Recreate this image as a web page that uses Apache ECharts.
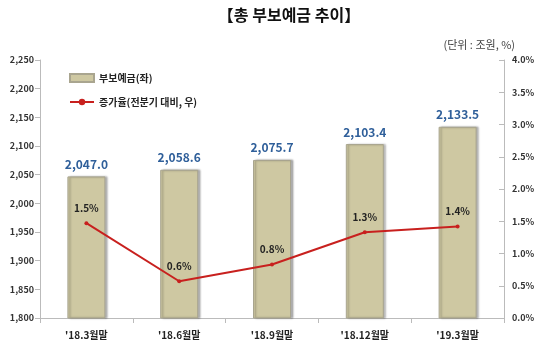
<!DOCTYPE html>
<html><head><meta charset="utf-8">
<script src="https://cdn.jsdelivr.net/npm/echarts@6/dist/echarts.min.js"></script>
<style>html,body{margin:0;padding:0;background:#fff}#c{width:540px;height:355px}</style>
</head><body><div id="c"></div>
<script>
const categories = ["'18.3월말", "'18.6월말", "'18.9월말", "'18.12월말", "'19.3월말"];
const deposits = [2047.0, 2058.6, 2075.7, 2103.4, 2133.5];
const growth = [1.47, 0.57, 0.83, 1.33, 1.42];
const growthLabels = ["1.5%", "0.6%", "0.8%", "1.3%", "1.4%"];
const leftTicks = [1800, 2250, 50];
const rightTicks = [0, 4, 0.5];

const font = "'Noto Sans CJK KR', 'Noto Sans', sans-serif";
const chart = echarts.init(document.getElementById('c'));
chart.setOption({
  animation: false,
  textStyle: { fontFamily: font },
  title: [
    { text: '【총 부보예금 추이】', left: 284, top: 2, textAlign: 'center',
      textStyle: { fontSize: 16, fontWeight: 'bold', color: '#111', fontFamily: font } },
    { text: '(단위 : 조원, %)', right: 20, top: 34,
      textStyle: { fontSize: 11, fontWeight: 'normal', color: '#444', fontFamily: font } }
  ],
  legend: {
    left: 64, top: 68, orient: 'vertical', itemGap: 14,
    itemWidth: 24, itemHeight: 8,
    textStyle: { fontSize: 10, fontWeight: 'bold', color: '#222', fontFamily: font },
    data: [
      { name: '부보예금(좌)', icon: 'rect' },
      { name: '증가율(전분기 대비, 우)' }
    ]
  },
  grid: { left: 40, right: 36, top: 60, bottom: 37 },
  xAxis: {
    type: 'category', data: categories,
    axisLine: { lineStyle: { color: '#bbb' } },
    axisTick: { show: true, lineStyle: { color: '#bbb' } },
    axisLabel: { fontSize: 10, fontWeight: 'bold', color: '#222', margin: 12 }
  },
  yAxis: [
    { type: 'value', min: leftTicks[0], max: leftTicks[1], interval: leftTicks[2],
      axisLine: { show: true, lineStyle: { color: '#bbb' } },
      axisTick: { show: true, lineStyle: { color: '#bbb' } },
      splitLine: { show: false },
      axisLabel: { fontSize: 9, fontWeight: 'bold', color: '#333', margin: 6,
        formatter: v => v.toLocaleString('en-US') } },
    { type: 'value', min: rightTicks[0], max: rightTicks[1], interval: rightTicks[2],
      position: 'right',
      axisLine: { show: true, lineStyle: { color: '#bbb' } },
      axisTick: { show: true, inside: true, lineStyle: { color: '#bbb' } },
      splitLine: { show: false },
      axisLabel: { fontSize: 9, fontWeight: 'bold', color: '#333', margin: 8,
        formatter: v => v.toFixed(1) + '%' } }
  ],
  series: [
    { name: '부보예금(좌)', type: 'bar', yAxisIndex: 0, data: deposits,
      barWidth: 38,
      itemStyle: { color: '#CEC8A2', borderColor: '#A9A58F', borderWidth: 1,
        shadowColor: 'rgba(0,0,0,0.3)', shadowOffsetX: 2, shadowBlur: 2 },
      label: { show: true, position: 'top', distance: 6, fontSize: 12, fontWeight: 'bold',
        color: '#2F5F9A', formatter: p => p.value.toLocaleString('en-US', {minimumFractionDigits:1, maximumFractionDigits:1}) } },
    { name: '증가율(전분기 대비, 우)', type: 'line', yAxisIndex: 1, data: growth,
      symbol: 'circle', symbolSize: 4,
      lineStyle: { color: '#C8201E', width: 2 },
      itemStyle: { color: '#C8201E' },
      label: { show: true, position: 'top', distance: 8, fontSize: 10, fontWeight: 'bold',
        color: '#222', formatter: p => growthLabels[p.dataIndex] } }
  ]
});
</script></body></html>
